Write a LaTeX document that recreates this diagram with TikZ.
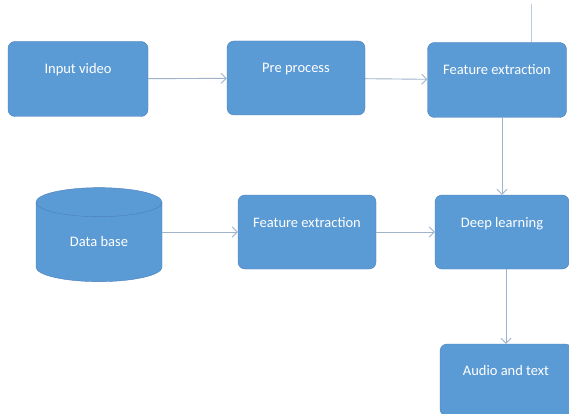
\documentclass[tikz,border=0pt]{standalone}
\usepackage{fontspec}
\setmainfont{Carlito}
\usetikzlibrary{arrows.meta,shapes.geometric}
\definecolor{boxblue}{HTML}{5B9BD5}
\definecolor{boxline}{HTML}{4A7EBB}
\definecolor{linkgray}{HTML}{9FB3CB}
\begin{document}
\begin{tikzpicture}[x=1pt,y=-1pt,
  box/.style={draw=boxline,fill=boxblue,rounded corners=7pt,text=white,inner sep=0pt,
    font=\fontsize{14.5}{16}\selectfont,text height=10pt,text depth=20pt},
  link/.style={draw=linkgray,line width=0.9pt,-{Straight Barb[length=5pt,width=10pt]}}]
\clip (0,0) rectangle (569,414);
\fill[white] (0,0) rectangle (569,414);
% top row
\node[box,minimum width=140pt,minimum height=75pt] (video) at (78,79) {Input video};
\node[box,minimum width=138pt,minimum height=74pt] (pre) at (296,78) {Pre process};
\node[box,minimum width=139pt,minimum height=75pt] (feat1) at (497,80) {Feature extraction};
% middle row
\node[cylinder,shape border rotate=90,aspect=0.5,draw=boxline,fill=boxblue,text=white,
  minimum width=126pt,minimum height=94pt,inner sep=0pt,
  font=\fontsize{14.5}{16}\selectfont] (db) at (99,242) {Data base};
\node[box,minimum width=138pt,minimum height=74pt] (feat2) at (307,232) {Feature extraction};
\node[box,minimum width=134pt,minimum height=74pt] (deep) at (502,232) {Deep learning};
% bottom
\node[box,minimum width=132pt,minimum height=72pt] (audio) at (506,380) {Audio and text};
% connectors
\coordinate (tick) at (531,4);
\draw[linkgray!70,line width=0.5pt] (tick) -- (tick |- feat1.north);
\draw[link] (video) -- (pre);
\draw[link] (pre) -- (feat1);
\draw[link] (deep.north |- feat1.south) -- (deep.north);
\draw[link] (db.east |- feat2) -- (feat2);
\draw[link] (feat2) -- (deep);
\draw[link] (audio.north |- deep.south) -- (audio.north);
\end{tikzpicture}
\end{document}
